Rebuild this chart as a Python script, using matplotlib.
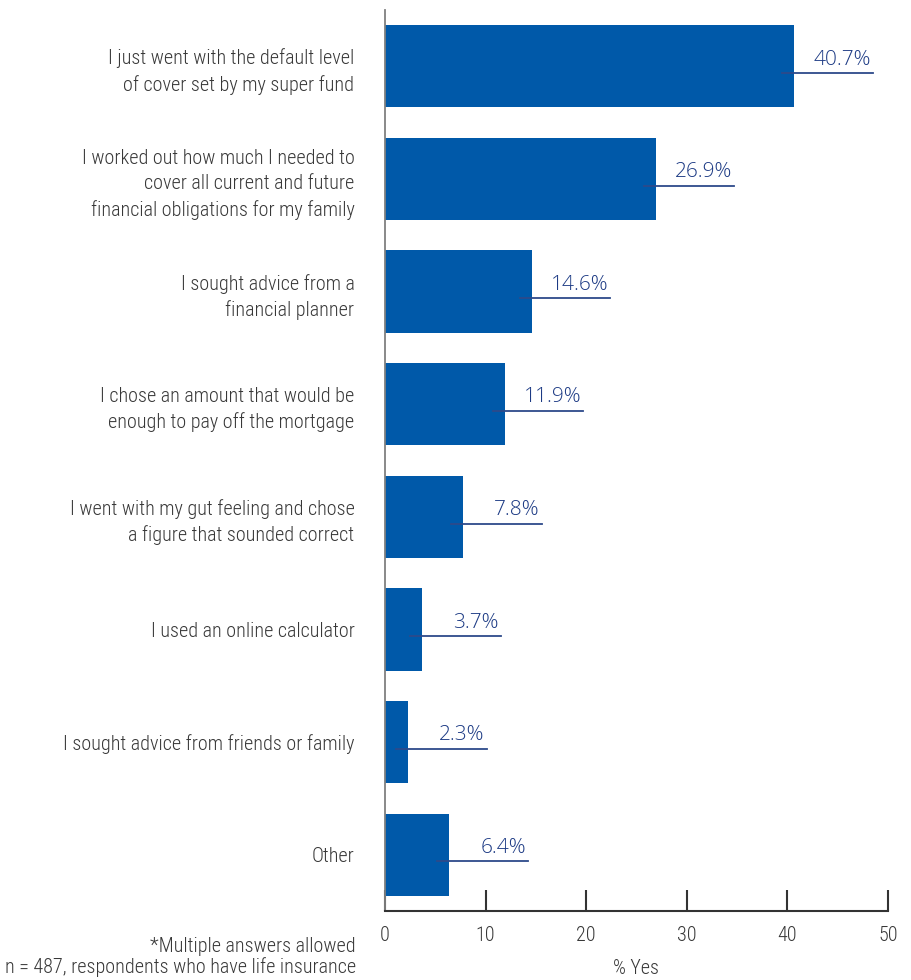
import matplotlib
matplotlib.use('Agg')
import matplotlib.pyplot as plt
from matplotlib import font_manager

categories = [
    'I just went with the default level\nof cover set by my super fund',
    'I worked out how much I needed to\ncover all current and future\nfinancial obligations for my family',
    'I sought advice from a\nfinancial planner',
    'I chose an amount that would be\nenough to pay off the mortgage',
    'I went with my gut feeling and chose\na figure that sounded correct',
    'I used an online calculator',
    'I sought advice from friends or family',
    'Other',
]
values = [40.7, 26.9, 14.6, 11.9, 7.8, 3.7, 2.3, 6.4]
value_labels = ['40.7%', '26.9%', '14.6%', '11.9%', '7.8%', '3.7%', '2.3%', '6.4%']
xticks = [0, 10, 20, 30, 40, 50]
xlabel = '% Yes'
footnotes = ['*Multiple answers allowed', 'n = 487, respondents who have life insurance']

ttf = font_manager.fontManager.ttflist
names = {f.name for f in ttf}
cond = None
for cand in ['Liberation Sans Narrow', 'Roboto Condensed', 'Open Sans Condensed',
             'Noto Sans Condensed', 'Arial Narrow']:
    if cand in names:
        cond = dict(family=cand, weight='light')
        csize = 14.5
        break
if cond is None:
    cond = dict(family='DejaVu Sans', stretch='condensed')
    csize = 13.0


def _w(f):
    try:
        return int(f.weight)
    except (TypeError, ValueError):
        return {'light': 300, 'extra light': 200, 'ultralight': 200, 'thin': 100}.get(str(f.weight).lower(), 400)


valfont = None
for cand in ['Open Sans', 'Noto Sans', 'Lato', 'Inter', 'Roboto']:
    if any(f.name == cand and _w(f) == 300 and f.style == 'normal' for f in ttf):
        valfont = dict(family=cand, weight='light')
        break
if valfont is None:
    valfont = dict(family='Noto Sans' if 'Noto Sans' in names else 'DejaVu Sans')

BAR = '#0059a9'
TXT = '#383838'
VAL = '#1c3a84'
LINE = '#2d4a8a'

W, H = 912, 980
fig = plt.figure(figsize=(W / 100, H / 100), dpi=100)
ax = fig.add_axes([385 / W, 1 - 911 / H, (888 - 385) / W, 901 / H])

y = list(range(len(categories)))
ax.barh(y, values, height=0.73, color=BAR, zorder=2)
ax.set_xlim(0, 50)
ax.set_ylim(len(categories) - 0.5, -0.5)

for spn in ['top', 'right']:
    ax.spines[spn].set_visible(False)
ax.spines['left'].set_color('#808080')
ax.spines['left'].set_linewidth(1.3)
ax.spines['bottom'].set_color('#333333')
ax.spines['bottom'].set_linewidth(1.5)

ax.set_xticks(xticks)
ax.set_xticklabels([str(t) for t in xticks], fontsize=14.5, color=TXT, **cond)
ax.tick_params(axis='x', direction='in', length=15, width=1.5, color='#333333', pad=11)

ax.set_yticks(y)
ax.set_yticklabels(categories, fontsize=csize, color=TXT, linespacing=1.42, **cond)
ax.tick_params(axis='y', length=0, pad=22)

for i, (v, lab) in enumerate(zip(values, value_labels)):
    ax.plot([v - 1.2, v + 7.8], [i + 0.06, i + 0.06], color=LINE, lw=1.3, zorder=3)
    ax.text(v + 7.6, i - 0.015, lab, ha='right', va='baseline', fontsize=15,
            color=VAL, zorder=4, **valfont)

ax.set_xlabel(xlabel, fontsize=14.5, color=TXT, labelpad=10, **cond)

fig.text(356 / W, 1 - 952 / H, footnotes[0], ha='right', va='baseline',
         fontsize=csize, color=TXT, **cond)
fig.text(356 / W, 1 - 973 / H, footnotes[1], ha='right', va='baseline',
         fontsize=csize, color=TXT, **cond)

fig.savefig('out.png', dpi=100)
